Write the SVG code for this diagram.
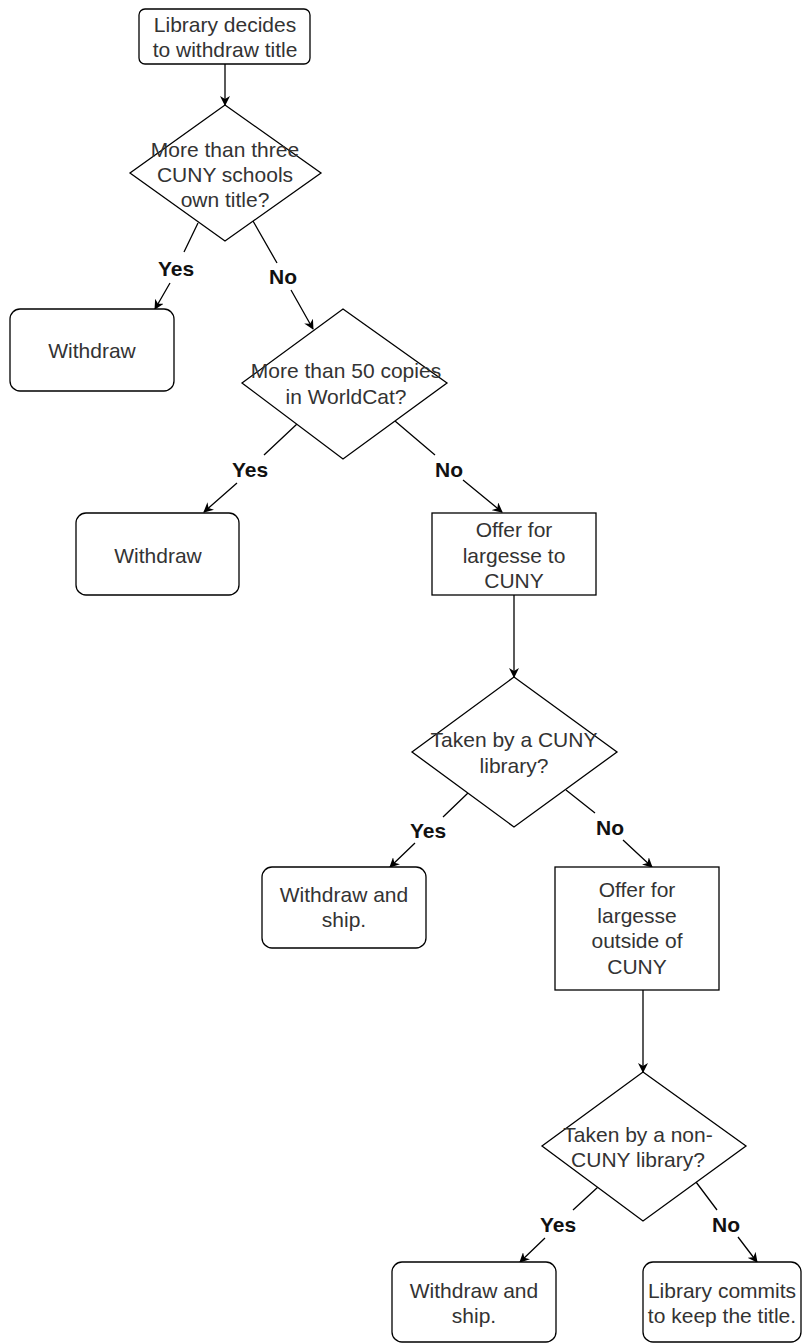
<svg xmlns="http://www.w3.org/2000/svg" width="803" height="1343" viewBox="0 0 803 1343">
<defs>
<marker id="arr" viewBox="0 0 10 10" refX="9" refY="5" markerWidth="10" markerHeight="10" markerUnits="userSpaceOnUse" orient="auto">
<path d="M0,0 L10,5 L0,10 L3,5 z" fill="#000"/>
</marker>
<style>
.shape{fill:#fff;stroke:#000;stroke-width:1.3}
.t{font-family:"Liberation Sans",Arial,Helvetica,sans-serif;font-size:21px;fill:#333;text-anchor:middle}
.lbl{font-family:"Liberation Sans",Arial,Helvetica,sans-serif;font-size:21px;font-weight:bold;fill:#111;text-anchor:middle}
.edge{fill:none;stroke:#000;stroke-width:1.3;marker-end:url(#arr)}
</style>
</defs>
<rect width="803" height="1343" fill="#fff"/>
<g id="connectors">
<path class="edge" d="M225,64 L225,105"/>
<path class="edge" d="M198,223 L184,252 M170,283 L155,309"/>
<path class="edge" d="M253,221 L277,263 M291,290 L313,329"/>
<path class="edge" d="M297,424 L264,455 M237,483 L204,512"/>
<path class="edge" d="M395,421 L435,455 M463,480 L502,512"/>
<path class="edge" d="M514,595 L514,677"/>
<path class="edge" d="M468,793 L443,817 M415,843 L390,867"/>
<path class="edge" d="M566,790 L595,813 M623,840 L652,867"/>
<path class="edge" d="M643,990 L643,1072"/>
<path class="edge" d="M598,1187 L573,1210 M545,1238 L520,1262"/>
<path class="edge" d="M696,1182 L717,1210 M738,1237 L757,1262"/>
<text class="lbl" x="176" y="276">Yes</text>
<text class="lbl" x="283" y="284">No</text>
<text class="lbl" x="250" y="477">Yes</text>
<text class="lbl" x="449" y="477">No</text>
<text class="lbl" x="428" y="838">Yes</text>
<text class="lbl" x="610" y="835">No</text>
<text class="lbl" x="558" y="1232">Yes</text>
<text class="lbl" x="726" y="1232">No</text>
</g>
<g id="start">
<rect class="shape" x="139" y="9" width="171" height="55" rx="6"/>
<text class="t" x="225" y="32">Library decides</text>
<text class="t" x="225" y="57">to withdraw title</text>
</g>
<g id="d1">
<polygon class="shape" points="225,105 321,173 225,241 130,173"/>
<text class="t" x="225" y="157">More than three</text>
<text class="t" x="225" y="182">CUNY schools</text>
<text class="t" x="225" y="207">own title?</text>
</g>
<g id="w1">
<rect class="shape" x="10" y="309" width="164" height="82" rx="10"/>
<text class="t" x="92" y="358">Withdraw</text>
</g>
<g id="d2">
<polygon class="shape" points="343,309 447,383 343,459 242,383"/>
<text class="t" x="346" y="378">More than 50 copies</text>
<text class="t" x="346" y="404">in WorldCat?</text>
</g>
<g id="w2">
<rect class="shape" x="76" y="513" width="163" height="82" rx="10"/>
<text class="t" x="158" y="563">Withdraw</text>
</g>
<g id="offer1">
<rect class="shape" x="432" y="513" width="164" height="82"/>
<text class="t" x="514" y="537">Offer for</text>
<text class="t" x="514" y="563">largesse to</text>
<text class="t" x="514" y="588">CUNY</text>
</g>
<g id="d3">
<polygon class="shape" points="514,677 617,752 514,827 412,752"/>
<text class="t" x="514" y="747">Taken by a CUNY</text>
<text class="t" x="514" y="773">library?</text>
</g>
<g id="w3">
<rect class="shape" x="262" y="867" width="164" height="81" rx="10"/>
<text class="t" x="344" y="902">Withdraw and</text>
<text class="t" x="344" y="927">ship.</text>
</g>
<g id="offer2">
<rect class="shape" x="555" y="867" width="164" height="123"/>
<text class="t" x="637" y="897">Offer for</text>
<text class="t" x="637" y="923">largesse</text>
<text class="t" x="637" y="948">outside of</text>
<text class="t" x="637" y="974">CUNY</text>
</g>
<g id="d4">
<polygon class="shape" points="643,1072 746,1146 643,1221 542,1146"/>
<text class="t" x="638" y="1142">Taken by a non-</text>
<text class="t" x="638" y="1167">CUNY library?</text>
</g>
<g id="w4">
<rect class="shape" x="392" y="1262" width="164" height="80" rx="10"/>
<text class="t" x="474" y="1298">Withdraw and</text>
<text class="t" x="474" y="1323">ship.</text>
</g>
<g id="keep">
<rect class="shape" x="643" y="1262" width="158" height="80" rx="10"/>
<text class="t" x="722" y="1298">Library commits</text>
<text class="t" x="722" y="1323">to keep the title.</text>
</g>
</svg>
